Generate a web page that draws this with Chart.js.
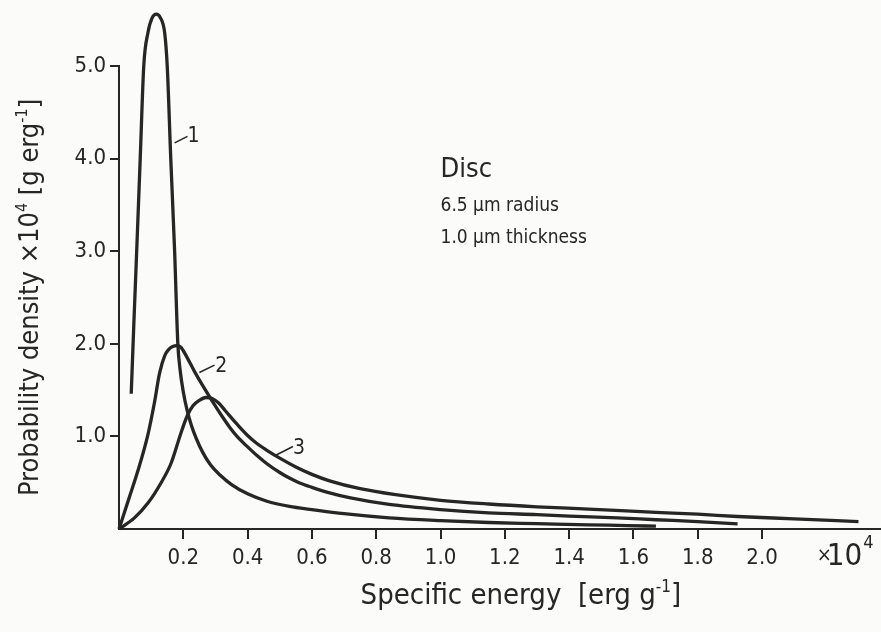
<!DOCTYPE html>
<html>
<head>
<meta charset="utf-8">
<script src="https://cdn.jsdelivr.net/npm/chart.js@4/dist/chart.umd.min.js"></script>
<style>
  html, body { margin: 0; padding: 0; background: #fbfbfa; }
  canvas { display: block; }
</style>
</head>
<body>
<canvas id="disc-chart" width="881" height="632"></canvas>
<script>
// specific energy (x 10^4 erg/g) and probability density (x 10^-4 g/erg)
var curve1X = [0.038, 0.046, 0.055, 0.066, 0.077, 0.090, 0.103, 0.116, 0.129, 0.142, 0.150, 0.161, 0.173, 0.183, 0.190, 0.200, 0.212, 0.225, 0.240, 0.260, 0.285, 0.315, 0.350, 0.400, 0.460, 0.530, 0.600, 0.700, 0.840, 1.000, 1.150, 1.300, 1.460, 1.580, 1.670];
var curve1Y = [1.46, 2.20, 3.00, 4.00, 5.00, 5.36, 5.52, 5.56, 5.52, 5.36, 5.00, 4.00, 3.00, 2.00, 1.72, 1.48, 1.28, 1.12, 0.98, 0.83, 0.69, 0.58, 0.48, 0.38, 0.30, 0.245, 0.21, 0.165, 0.12, 0.09, 0.07, 0.058, 0.045, 0.037, 0.03];

var curve2X = [0, 0.030, 0.058, 0.090, 0.110, 0.126, 0.142, 0.155, 0.167, 0.180, 0.193, 0.209, 0.235, 0.260, 0.292, 0.320, 0.344, 0.370, 0.396, 0.430, 0.458, 0.500, 0.530, 0.560, 0.600, 0.655, 0.720, 0.840, 1.000, 1.150, 1.300, 1.400, 1.550, 1.670, 1.800, 1.924];
var curve2Y = [0, 0.32, 0.62, 1.02, 1.36, 1.68, 1.87, 1.94, 1.97, 1.98, 1.96, 1.87, 1.70, 1.55, 1.37, 1.22, 1.10, 0.99, 0.90, 0.79, 0.71, 0.61, 0.55, 0.50, 0.45, 0.39, 0.335, 0.265, 0.21, 0.175, 0.155, 0.14, 0.12, 0.10, 0.08, 0.055];

var curve3X = [0, 0.048, 0.090, 0.131, 0.162, 0.193, 0.212, 0.230, 0.250, 0.270, 0.290, 0.310, 0.330, 0.365, 0.400, 0.430, 0.460, 0.500, 0.550, 0.600, 0.655, 0.750, 0.860, 1.000, 1.150, 1.300, 1.460, 1.670, 1.800, 1.924, 2.100, 2.300];
var curve3Y = [0, 0.12, 0.28, 0.50, 0.71, 1.04, 1.22, 1.33, 1.39, 1.42, 1.41, 1.36, 1.28, 1.14, 1.01, 0.92, 0.85, 0.765, 0.67, 0.59, 0.52, 0.435, 0.37, 0.31, 0.27, 0.24, 0.215, 0.18, 0.16, 0.135, 0.11, 0.08];

var xTicks = [0.2, 0.4, 0.6, 0.8, 1.0, 1.2, 1.4, 1.6, 1.8, 2.0];
var yTicks = [1.0, 2.0, 3.0, 4.0, 5.0];

// curve numbers: label position and the short leader line, in data units
var curveNames = ['1', '2', '3'];
var curveLabelAt = [[0.232, 4.27], [0.318, 1.78], [0.560, 0.90]];
var leaderFrom = [[0.173, 4.17], [0.250, 1.69], [0.489, 0.80]];
var leaderTo = [[0.213, 4.24], [0.297, 1.77], [0.541, 0.89]];

var INK = '#262626';
var FONT = '"Liberation Sans Narrow", "DejaVu Sans Condensed", sans-serif';

var DiscChart = {

  setup: function () {
    var ctx = document.getElementById('disc-chart');
    var series = [[curve1X, curve1Y], [curve2X, curve2Y], [curve3X, curve3Y]];

    new Chart(ctx, {
      type: 'line',
      data: {
        datasets: series.map(function (s) {
          return {
            data: s[0].map(function (x, i) { return {x: x, y: s[1][i]}; }),
            borderColor: INK,
            borderWidth: 3.3,
            borderCapStyle: 'butt',
            borderJoinStyle: 'round',
            cubicInterpolationMode: 'monotone',
            pointRadius: 0,
            clip: false
          };
        })
      },
      options: {
        responsive: false,
        animation: false,
        layout: {padding: {top: 66, right: 0, bottom: 0, left: 0}},
        plugins: {legend: {display: false}, tooltip: {enabled: false}},
        scales: {
          x: {
            type: 'linear', min: 0, max: 2.37,
            afterBuildTicks: function (scale) {
              scale.ticks = xTicks.map(function (v) { return {value: v}; });
            },
            afterFit: function (scale) { scale.height = 103; },
            grid: {drawOnChartArea: false, tickLength: 10, color: INK, lineWidth: 2},
            border: {display: true, color: INK, width: 2},
            ticks: {
              color: INK, padding: 6, maxRotation: 0,
              font: {family: FONT, size: 22},
              callback: function (v) { return v.toFixed(1); }
            }
          },
          y: {
            min: 0, max: 5,
            afterBuildTicks: function (scale) {
              scale.ticks = yTicks.map(function (v) { return {value: v}; });
            },
            afterFit: function (scale) { scale.width = 119; },
            grid: {drawOnChartArea: false, tickLength: 9, color: INK, lineWidth: 2},
            border: {display: true, color: INK, width: 2},
            ticks: {
              color: INK, padding: 4,
              font: {family: FONT, size: 22},
              callback: function (v) { return v.toFixed(1); }
            }
          }
        }
      },
      plugins: [this.notes]
    });
  },

  // text with raised parts: parts = [[text, isSuperscript], ...]
  richWidth: function (c, parts, size) {
    var w = 0;
    parts.forEach(function (p) {
      c.font = (p[1] ? Math.round(size * 0.6) : size) + 'px ' + FONT;
      w += c.measureText(p[0]).width;
    });
    return w;
  },

  drawRich: function (c, parts, size, x, y) {
    parts.forEach(function (p) {
      var s = p[1] ? Math.round(size * 0.6) : size;
      c.font = s + 'px ' + FONT;
      c.fillText(p[0], x, p[1] ? y - size * 0.42 : y);
      x += c.measureText(p[0]).width;
    });
  },

  notes: {
    id: 'notes',
    afterDraw: function (chart) {
      var c = chart.ctx, x = chart.scales.x, y = chart.scales.y, area = chart.chartArea;
      c.save();
      c.fillStyle = INK;
      c.strokeStyle = INK;
      c.textBaseline = 'alphabetic';

      // curve numbers with leaders
      c.lineWidth = 1.6;
      c.font = '21px ' + FONT;
      c.textAlign = 'center';
      curveNames.forEach(function (n, i) {
        c.beginPath();
        c.moveTo(x.getPixelForValue(leaderFrom[i][0]), y.getPixelForValue(leaderFrom[i][1]));
        c.lineTo(x.getPixelForValue(leaderTo[i][0]), y.getPixelForValue(leaderTo[i][1]));
        c.stroke();
        c.fillText(n, x.getPixelForValue(curveLabelAt[i][0]), y.getPixelForValue(curveLabelAt[i][1]) + 8);
      });

      // caption
      c.textAlign = 'left';
      var capX = x.getPixelForValue(1.0);
      c.font = '27px ' + FONT;
      c.fillText('Disc', capX, y.getPixelForValue(3.80));
      c.font = '19px ' + FONT;
      c.fillText('6.5 µm radius', capX, y.getPixelForValue(3.43));
      c.fillText('1.0 µm thickness', capX, y.getPixelForValue(3.09));

      // x10^4 multiplier at the end of the x axis
      var mx = x.getPixelForValue(2.17), my = area.bottom + 36;
      c.font = '20px ' + FONT;
      c.fillText('×', mx, my - 4);
      c.font = '31px ' + FONT;
      c.fillText('10', mx + 10, my);
      var tenW = c.measureText('10').width;
      c.font = '18px ' + FONT;
      c.fillText('4', mx + 11 + tenW, my - 17);

      // axis titles
      var xt = [['Specific energy  [erg g', false], ['-1', true], [']', false]];
      var w = DiscChart.richWidth(c, xt, 29);
      DiscChart.drawRich(c, xt, 29, x.getPixelForValue(1.25) - w / 2, area.bottom + 75);

      var yt = [['Probability density ×10', false], ['4', true], [' [g erg', false], ['-1', true], [']', false]];
      w = DiscChart.richWidth(c, yt, 27);
      c.translate(38, y.getPixelForValue(2.5));
      c.rotate(-Math.PI / 2);
      DiscChart.drawRich(c, yt, 27, -w / 2, 0);

      c.restore();
    }
  }
};

DiscChart.setup();
</script>
</body>
</html>
